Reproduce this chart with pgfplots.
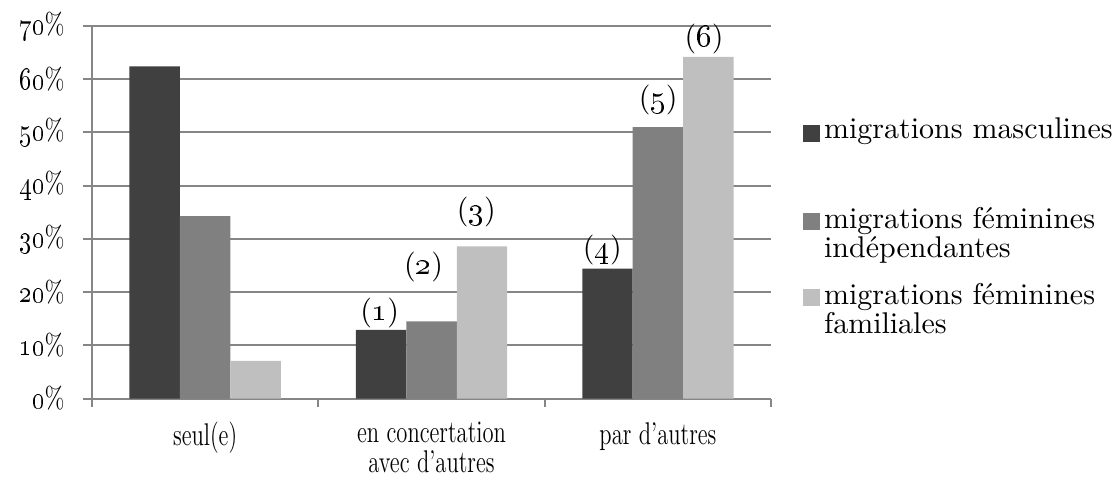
\documentclass[border=0pt]{standalone}
\usepackage{graphicx}
\usepackage{pgfplots}
\pgfplotsset{compat=1.18}
\definecolor{cA}{HTML}{404040}
\definecolor{cB}{HTML}{808080}
\definecolor{cC}{HTML}{BFBFBF}
\definecolor{gridc}{HTML}{868686}
\newcommand{\xl}[1]{\scalebox{0.72}[1]{#1}}
\newcommand{\yl}[1]{\scalebox{0.8}[1]{\oldstylenums{#1}\%}}
\begin{document}
\begin{tikzpicture}[font=\fontsize{10.5pt}{10.15pt}\selectfont]
\begin{axis}[
  name=ax,
  at={(0,0)}, anchor=south west,
  scale only axis,
  width=238pt, height=130.55pt,
  xmin=-0.5, xmax=2.5, ymin=0, ymax=70,
  ybar=0pt, bar width=17.68pt,
  axis x line*=bottom, axis y line*=left,
  axis line style={draw=gridc, line width=0.7pt},
  ymajorgrids, major grid style={draw=gridc, line width=0.7pt},
  ytick={0,10,...,70},
  yticklabels={\yl{0},\yl{10},\yl{20},\yl{30},\yl{40},\yl{50},\yl{60},\yl{70}},
  yticklabel style={xshift=-3.0pt},
  xtick={0,1,2},
  xticklabels={\xl{seul(e)},\xl{en concertation}\\\xl{avec d'autres},\xl{par d'autres}},
  xticklabel style={align=center, yshift=-1.75pt, font=\fontsize{11pt}{10.4pt}\selectfont},
  minor xtick={-0.5,0.5,1.5,2.5},
  tick align=outside,
  major tick length=3pt, minor tick length=3pt,
  major x tick style={draw=none},
  tick style={draw=gridc, line width=0.7pt},
  clip=false,
  legend style={at={(1.0456,0.7668)}, anchor=north west, draw=none, fill=none, inner sep=0pt,
    row sep=4.65pt, column sep=0pt, nodes={align=left, inner sep=1.5pt}},
  legend cell align=left,
]
\addplot[fill=cA, draw=none, legend image code/.code={\fill[cA] (0pt,3.3pt) rectangle (6pt,9.3pt); \path[draw=none, fill=none] (0pt,-9.3pt) rectangle (0pt,9.3pt);}] coordinates {(0,62.4) (1,12.9) (2,24.4)};
\addlegendentry{migrations masculines\\[4.9pt]\mbox{}}
\addplot[fill=cB, draw=none, legend image code/.code={\fill[cB] (0pt,1.8pt) rectangle (6pt,7.8pt); \path[draw=none, fill=none] (0pt,-7.8pt) rectangle (0pt,7.8pt);}] coordinates {(0,34.3) (1,14.5) (2,51.0)};
\addlegendentry{migrations féminines\\indépendantes}
\addplot[fill=cC, draw=none, legend image code/.code={\fill[cC] (0pt,1.8pt) rectangle (6pt,7.8pt); \path[draw=none, fill=none] (0pt,-7.8pt) rectangle (0pt,7.8pt);}] coordinates {(0,7.1) (1,28.6) (2,64.2)};
\addlegendentry{migrations féminines\\familiales}
\node at (axis cs:0.771,16.1) {(\oldstylenums{1})};
\node at (axis cs:0.965,24.8) {(\oldstylenums{2})};
\node at (axis cs:1.198,35.1) {(\oldstylenums{3})};
\node at (axis cs:1.754,28.0) {(\oldstylenums{4})};
\node at (axis cs:2.001,56.1) {(\oldstylenums{5})};
\node at (axis cs:2.204,67.5) {(\oldstylenums{6})};
\end{axis}
\path[use as bounding box] (ax.south west) ++(-32.2pt,-26.6pt) rectangle ++(390.95pt,166.25pt);
\end{tikzpicture}
\end{document}
